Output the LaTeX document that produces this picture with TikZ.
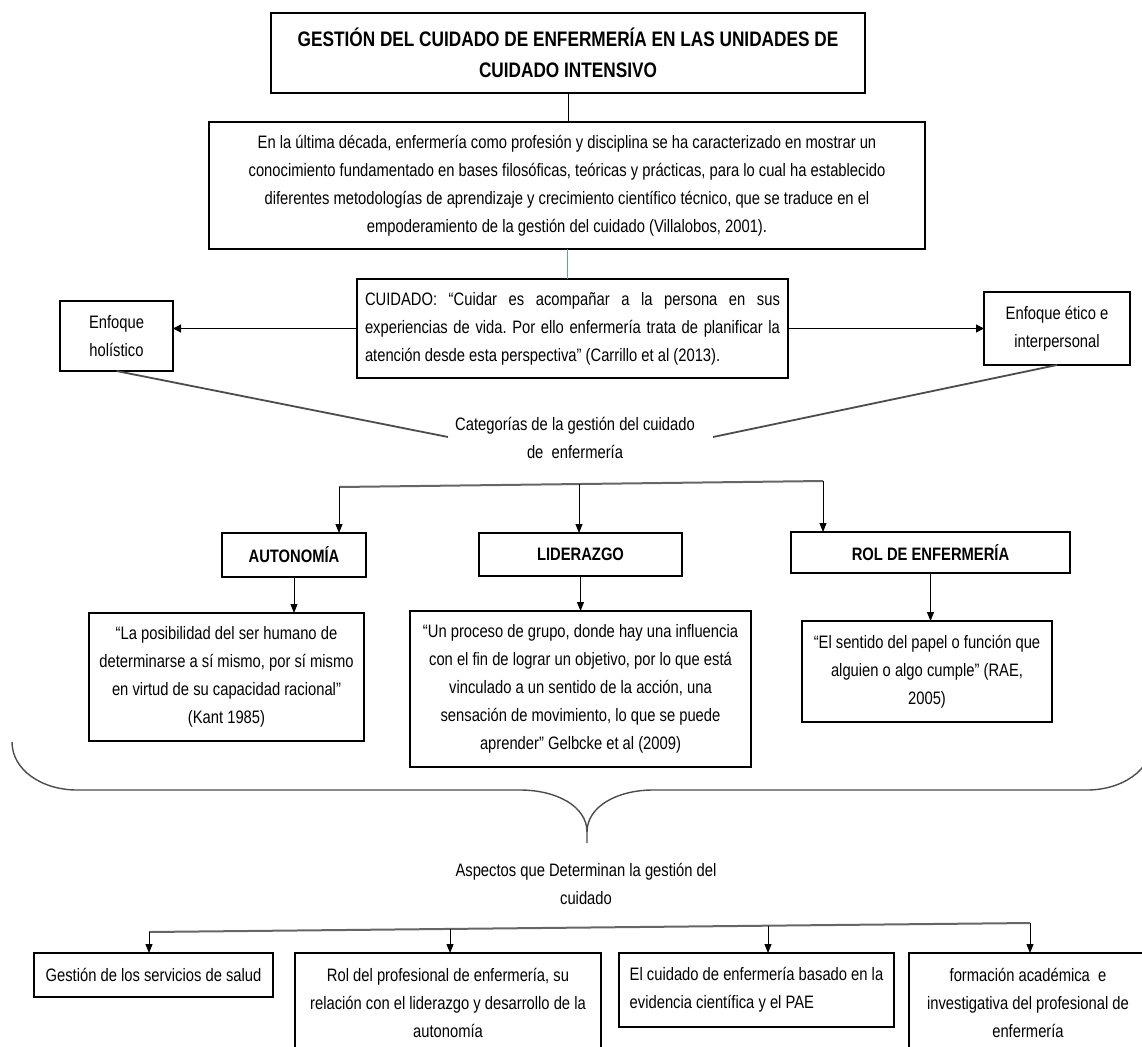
\documentclass[tikz,border=0pt]{standalone}
\usepackage{fontspec}
\setmainfont{Liberation Sans}[FakeStretch=0.82]
\usetikzlibrary{arrows.meta,calc}
\definecolor{bluelink}{HTML}{5B9BD5}
\frenchspacing
\begin{document}
\begin{tikzpicture}[x=1pt,y=-1pt,
 box/.style={draw=black,line width=1.1pt,inner sep=0pt,outer sep=0pt,font=\fontsize{18}{28}\selectfont,align=center},
 plain/.style={inner sep=0pt,font=\fontsize{18}{28}\selectfont,align=center},
 arr/.style={draw=black,line width=0.9pt,-{Stealth[length=9pt,width=7pt,inset=0pt]}},
 harr/.style={draw=black,line width=1.3pt,-{Stealth[length=8pt,width=8pt,inset=0pt]}},
 link/.style={draw=black,line width=0.9pt},
 diag/.style={draw=black!70,line width=1.8pt},
 bar/.style={draw=black!60,line width=2pt},
 bluel/.style={draw=bluelink,line width=1pt},
 bracecurve/.style={draw=black!70,line width=1.4pt}]
\useasboundingbox (0,0) rectangle (1142,1046);
\fill[white] (0,0) rectangle (1142,1046);

% top
\node[box,minimum width=594pt,minimum height=80pt,font=\fontsize{21}{31}\selectfont\bfseries] (title) at (568,53)
 {GESTIÓN DEL CUIDADO DE ENFERMERÍA EN LAS UNIDADES DE\\CUIDADO INTENSIVO};
\node[box,minimum width=716pt,minimum height=127pt] (para) at (567,185.5)
 {En la última década, enfermería como profesión y disciplina se ha caracterizado en mostrar un\\
  conocimiento fundamentado en bases filosóficas, teóricas y prácticas, para lo cual ha establecido\\
  diferentes metodologías de aprendizaje y crecimiento científico técnico, que se traduce en el\\
  empoderamiento de la gestión del cuidado (Villalobos, 2001).};
\node[box,minimum width=431pt,minimum height=99pt,align=left] (cuid) at (572.5,328.5)
 {\makebox[415pt][s]{CUIDADO: “Cuidar es acompañar a la persona en sus}\\
  \makebox[415pt][s]{experiencias de vida. Por ello enfermería trata de planificar la}\\
  atención desde esta perspectiva” (Carrillo et al (2013).};
\node[box,minimum width=113pt,minimum height=70pt] (hol) at (116.5,336) {Enfoque\\holístico};
\node[box,minimum width=146pt,minimum height=73pt] (etico) at (1057,328.5) {Enfoque ético e\\interpersonal};
\node[plain] (cat) at (575,437.5) {Categorías de la gestión del cuidado\\de\ \ enfermería};
\coordinate (catL) at (448,437);
\coordinate (catR) at (713,437);

% categories
\node[box,minimum width=144pt,minimum height=44pt,font=\fontsize{18}{28}\selectfont\bfseries] (auto) at (294,555) {AUTONOMÍA};
\node[box,minimum width=203pt,minimum height=43pt,font=\fontsize{18}{28}\selectfont\bfseries] (lidh) at (580.5,554.5) {LIDERAZGO};
\node[box,minimum width=279pt,minimum height=41pt,font=\fontsize{18}{28}\selectfont\bfseries] (rol) at (930.5,552.5) {ROL DE ENFERMERÍA};
\node[box,minimum width=275pt,minimum height=128pt] (kant) at (226.5,677)
 {“La posibilidad del ser humano de\\determinarse a sí mismo, por sí mismo\\en virtud de su capacidad racional”\\(Kant 1985)};
\node[box,minimum width=341pt,minimum height=156pt] (lidt) at (580.5,689)
 {“Un proceso de grupo, donde hay una influencia\\con el fin de lograr un objetivo, por lo que está\\vinculado a un sentido de la acción, una\\sensación de movimiento, lo que se puede\\aprender” Gelbcke et al (2009)};
\node[box,minimum width=250pt,minimum height=101pt] (rae) at (927,671.5)
 {“El sentido del papel o función que\\alguien o algo cumple” (RAE,\\2005)};

% aspects
\node[plain] (asp) at (586,884) {Aspectos que Determinan la gestión del\\cuidado};
\node[box,minimum width=239pt,minimum height=44pt] (ges) at (153.5,975) {Gestión de los servicios de salud};
\node[box,minimum width=306pt,minimum height=99pt] (rolp) at (448,1002.5)
 {Rol del profesional de enfermería, su\\relación con el liderazgo y desarrollo de la\\autonomía};
\node[box,minimum width=275pt,minimum height=74pt,align=left] (cuev) at (756.5,990)
 {El cuidado de enfermería basado en la\\evidencia científica y el PAE};
\node[box,minimum width=238pt,minimum height=99pt] (form) at (1028,1002.5)
 {formación académica\ \ e\\investigativa del profesional de\\enfermería};

% connectors top
\draw[link] (title.south) -- (title.south |- para.north);
\draw[bluel] (para.south) -- (para.south |- cuid.north);
\draw[harr] (cuid.west) -- (cuid.west -| hol.east);
\draw[harr] (cuid.east) -- (cuid.east -| etico.west);
\draw[diag] (hol.south) -- (catL);
\draw[diag] (etico.south) -- (catR);

% category bar
\coordinate (bL) at (339,487);
\coordinate (bR) at (823,481);
\coordinate (bM) at ($(bL)!0.4959!(bR)$);
\draw[bar] (bL) -- (bR);
\draw[arr] (bL) -- (bL |- auto.north);
\draw[arr] (bM) -- (bM |- lidh.north);
\draw[arr] (bR) -- (bR |- rol.north);
\draw[arr] (auto.south) -- (auto.south |- kant.north);
\draw[arr] (lidh.south) -- (lidh.south |- lidt.north);
\draw[arr] (rol.south) -- (rol.south |- rae.north);

% brace
\draw[bracecurve] (12,742) .. controls (12,770) and (42,790) .. (77,790) -- (520,790)
  .. controls (556,790) and (587,806) .. (587,832) -- (587,843);
\draw[bracecurve] (587,832) .. controls (587,806) and (618,790) .. (653,790) -- (1087,790)
  .. controls (1122,790) and (1152,770) .. (1152,742);

% aspects bar
\coordinate (cL) at (149,932);
\coordinate (cR) at (1030,923);
\coordinate (c2) at ($(cL)!0.3417!(cR)$);
\coordinate (c3) at ($(cL)!0.7026!(cR)$);
\draw[bar] (cL) -- (cR);
\draw[arr] (cL) -- (cL |- ges.north);
\draw[arr] (c2) -- (c2 |- rolp.north);
\draw[arr] (c3) -- (c3 |- cuev.north);
\draw[arr] (cR) -- (cR |- form.north);
\end{tikzpicture}
\end{document}
